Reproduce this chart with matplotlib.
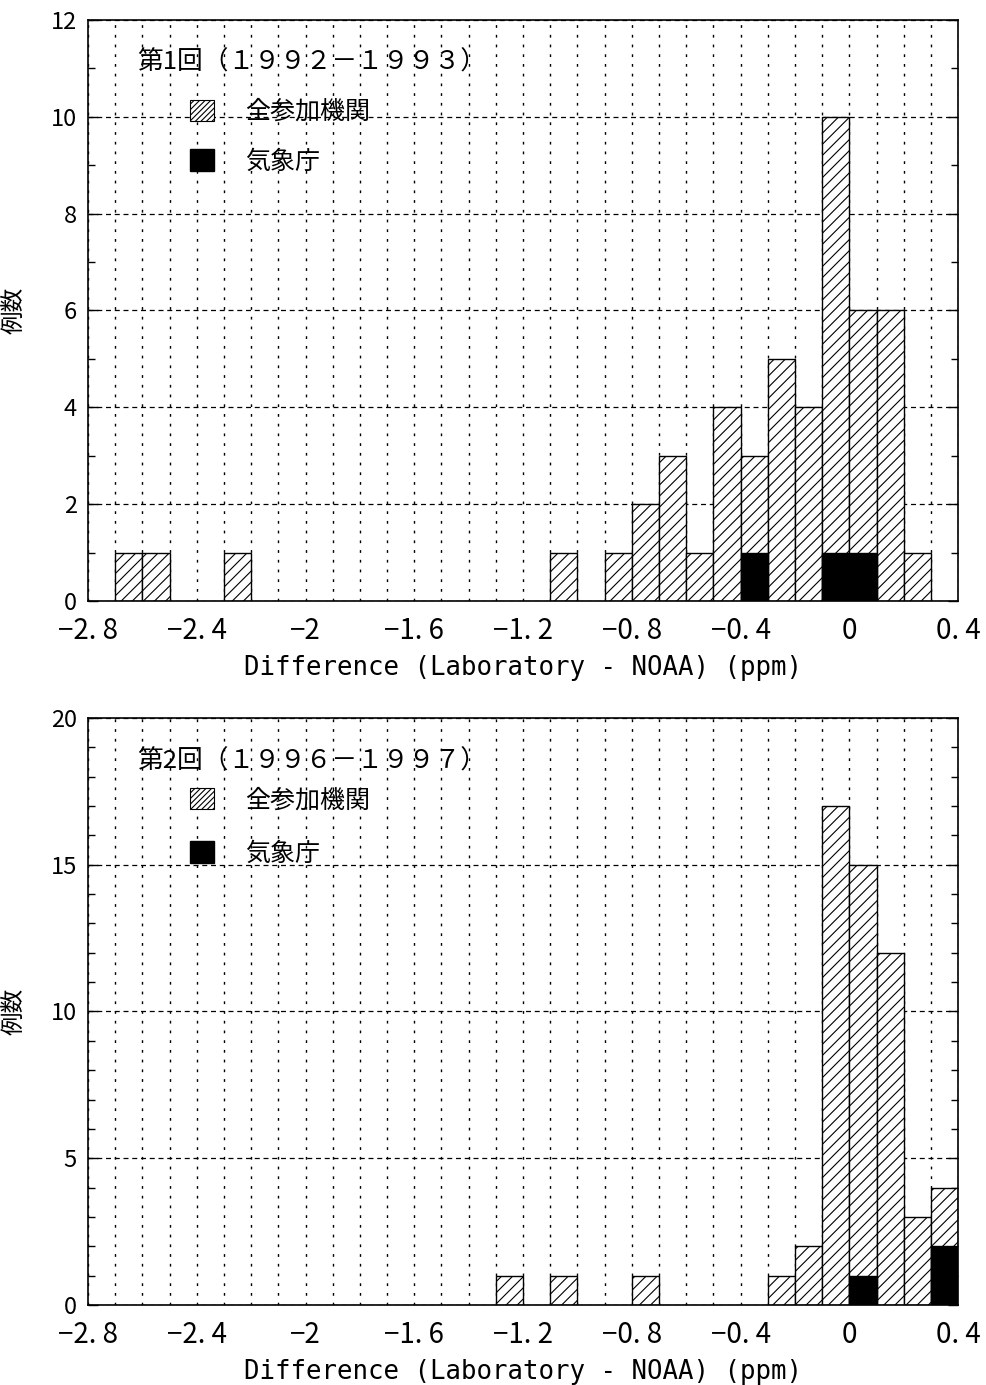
import numpy as np
import matplotlib
matplotlib.use("Agg")
import matplotlib.pyplot as plt
from matplotlib.patches import Patch
from matplotlib.ticker import MultipleLocator, FuncFormatter

plt.rcParams['font.family'] = ['Noto Sans CJK JP', 'DejaVu Sans']
plt.rcParams['hatch.linewidth'] = 0.8

# bin left edges (ppm), bin width 0.1
top_left = [-2.7, -2.6, -2.3, -1.1, -0.9, -0.8, -0.7, -0.6, -0.5, -0.4, -0.3, -0.2, -0.1, 0.0, 0.1, 0.2]
top_all = [1, 1, 1, 1, 1, 2, 3, 1, 4, 3, 5, 4, 10, 6, 6, 1]
top_jma_left = [-0.4, -0.1, 0.0]
top_jma = [1, 1, 1]

bot_left = [-1.3, -1.1, -0.8, -0.3, -0.2, -0.1, 0.0, 0.1, 0.2, 0.3]
bot_all = [1, 1, 1, 1, 2, 17, 15, 12, 3, 4]
bot_jma_left = [0.0, 0.3]
bot_jma = [1, 2]

titles = ['第1回（１９９２－１９９３）', '第2回（１９９６－１９９７）']
lab_all = '全参加機関'
lab_jma = '気象庁'
xlab = 'Difference (Laboratory - NOAA) (ppm)'
ylab = '例数'
bw = 0.1


def fmt_x(v, pos):
    if abs(v - round(v)) < 1e-9:
        s = f'{int(round(v))}'
    else:
        s = f'{v:.1f}'.replace('.', '. ')
    return s.replace('-', '\u2212')


fig = plt.figure(figsize=(9.87, 13.85), dpi=100)
ax1 = fig.add_axes([0.0892, 0.5661, 0.8815, 0.4195])
ax2 = fig.add_axes([0.0892, 0.0578, 0.8815, 0.4238])

setups = [
    (ax1, top_left, top_all, top_jma_left, top_jma, 12, 2, titles[0], 0.864, 0.95),
    (ax2, bot_left, bot_all, bot_jma_left, bot_jma, 20, 5, titles[1], 0.882, 1.1),
]

for ax, lefts, alls, jl, jv, ymax, ymaj, ttl, ly, lsp in setups:
    ax.bar(lefts, alls, width=bw, align='edge', facecolor='white',
           edgecolor='black', hatch='///', linewidth=1.0, zorder=2)
    ax.bar(jl, jv, width=bw, align='edge', facecolor='black',
           edgecolor='black', linewidth=1.0, zorder=3)

    ax.set_xlim(-2.8, 0.4)
    ax.set_ylim(0, ymax)
    ax.xaxis.set_major_locator(MultipleLocator(0.4))
    ax.xaxis.set_minor_locator(MultipleLocator(0.1))
    ax.xaxis.set_major_formatter(FuncFormatter(fmt_x))
    ax.yaxis.set_major_locator(MultipleLocator(ymaj))
    ax.yaxis.set_minor_locator(MultipleLocator(1))

    ax.set_axisbelow(True)
    ax.grid(True, axis='x', which='both', color='black', linewidth=1.0,
            linestyle=(0, (2, 5)))
    ax.grid(True, axis='y', which='major', color='black', linewidth=0.9,
            linestyle=(0, (4, 3)))

    ax.tick_params(axis='x', which='both', length=0, labelsize=20, pad=11)
    ax.tick_params(axis='y', which='major', direction='in', length=7,
                   left=True, right=True, labelsize=17, width=1.0, pad=8)
    ax.tick_params(axis='y', which='minor', direction='in', length=5,
                   left=True, right=True, width=1.0)
    for sp in ax.spines.values():
        sp.set_linewidth(1.2)

    ax.set_xlabel(xlab, family='DejaVu Sans Mono', fontsize=18.5, labelpad=6)
    ax.set_ylabel(ylab, fontsize=17, labelpad=18)

    ax.text(0.056, 0.926, ttl, transform=ax.transAxes, fontsize=18.5,
            ha='left', va='center')
    handles = [Patch(facecolor='white', edgecolor='black', hatch='//////', linewidth=0.8),
               Patch(facecolor='black', edgecolor='black')]
    ax.legend(handles, [lab_all, lab_jma], loc='upper left',
              bbox_to_anchor=(0.117, ly), frameon=False, fontsize=18,
              handlelength=0.95, handleheight=0.95, handletextpad=1.25,
              labelspacing=lsp, borderaxespad=0, borderpad=0)

fig.savefig('out.png', dpi=100)
